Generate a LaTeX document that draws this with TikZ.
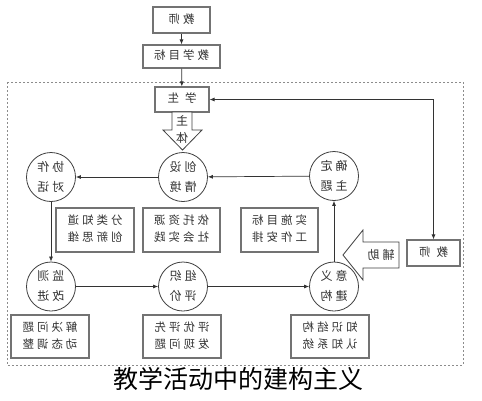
\documentclass[tikz,border=0pt]{standalone}
\usepackage{fontspec}
\usepackage{graphicx}
\newfontfamily\cjk{Noto Sans CJK SC}
\usetikzlibrary{arrows.meta}
\newcommand\kk{\hspace{3pt}}
\newcommand\mir[1]{\reflectbox{\begin{tabular}{@{}c@{}}#1\end{tabular}}}
\begin{document}
\begin{tikzpicture}[x=1pt,y=-1pt,
  box/.style={draw=black!55, line width=1.1pt, fill=white, inner sep=0pt,
    font=\cjk\fontsize{11.5}{17}\selectfont, text=black!80, align=center},
  circ/.style={circle, draw=black!75, line width=0.8pt, minimum size=49pt, inner sep=0pt,
    font=\cjk\fontsize{12}{20}\selectfont, text=black!80, align=center},
  hollow/.style={draw=black!75, line width=0.8pt, fill=white, line join=miter},
  conn/.style={draw=black!80, line width=0.7pt, -{Latex[length=5pt,width=4pt]}},
  lbl/.style={font=\cjk\fontsize{12}{14}\selectfont, text=black!80, inner sep=0pt}
  ]
\useasboundingbox (0,0) rectangle (482,400);
\fill[white] (0,0) rectangle (482,400);
% dashed frame
\draw[draw=black!45, line width=0.7pt, dash pattern=on 2pt off 2pt] (7,82) rectangle (463,365);
% top boxes
\node[box, minimum width=57pt, minimum height=26pt] (t1) at (181.5,20) {\mir{教\kk 师}};
\node[box, minimum width=77pt, minimum height=23pt] (t2) at (181.5,56.5) {\mir{教\kk 学\kk 目\kk 标}};
\node[box, minimum width=54pt, minimum height=25pt] (xs) at (182,99.5) {\mir{学\kk\kk 生}};
% circles
\node[circ] (xz) at (51,177) {\mir{协\kk 作\\对\kk 话}};
\node[circ] (cs) at (183,177) {\mir{创\kk 设\\情\kk 境}};
\node[circ] (qd) at (334,176) {\mir{确\kk 定\\主\kk 题}};
\node[circ] (jc) at (51,286.5) {\mir{监\kk 测\\改\kk 进}};
\node[circ] (zz) at (183,286.5) {\mir{组\kk 织\\评\kk 价}};
\node[circ] (yy) at (334,286.5) {\mir{意\kk 义\\建\kk 构}};
% middle boxes
\node[box, minimum width=78pt, minimum height=44pt] (m1) at (95,230) {\mir{分\kk 类\kk 知\kk 道\\创\kk 新\kk 思\kk 维}};
\node[box, minimum width=77pt, minimum height=44pt] (m2) at (181.5,230) {\mir{依\kk 托\kk 资\kk 源\\社\kk 会\kk 实\kk 践}};
\node[box, minimum width=77pt, minimum height=44pt] (m3) at (279.5,230) {\mir{实\kk 施\kk 目\kk 标\\工\kk 作\kk 安\kk 排}};
% bottom boxes
\node[box, minimum width=78pt, minimum height=43pt] (b1) at (50,336.5) {\mir{解\kk 决\kk 问\kk 题\\动\kk 态\kk 调\kk 整}};
\node[box, minimum width=78pt, minimum height=43pt] (b2) at (182,336.5) {\mir{评\kk 优\kk 评\kk 先\\发\kk 现\kk 问\kk 题}};
\node[box, minimum width=78pt, minimum height=43pt] (b3) at (330,336.5) {\mir{知\kk 识\kk 结\kk 构\\认\kk 知\kk 系\kk 统}};
% right teacher box
\node[box, minimum width=53pt, minimum height=26pt] (js) at (433.5,253) {\mir{教\kk\kk 师}};
% hollow arrow 主体
\draw[hollow] (172,112) -- (192,112) -- (192,130) -- (202,130) -- (182.5,150) -- (163,130) -- (172,130) -- cycle;
\node[lbl] (zt1) at (182,121) {\reflectbox{主}};
\node[lbl] (zt2) at (182,138) {\reflectbox{体}};
% hollow arrow 辅助
\draw[hollow] (399,242) -- (363,242) -- (363,230) -- (343,255) -- (363,280) -- (363,268) -- (399,268) -- cycle;
\node[lbl] (fz) at (381,255) {\reflectbox{辅\kk 助}};
% connectors
\draw[conn] (t1) -- (t2);
\draw[conn] (t2) -- (xs);
\coordinate (c1) at (433.5,99.5);
\draw[conn] (c1) -- (xs.east);
\draw[conn] (c1) -- (js.north);
\draw[conn] (qd) -- (cs);
\draw[conn] (cs) -- (xz);
\draw[conn] (xz) -- (jc);
\draw[conn] (jc) -- (zz);
\draw[conn] (zz) -- (yy);
\draw[conn] (yy) -- (qd);
% title overlay
\node[font=\cjk\fontsize{25}{25}\selectfont, text=black, inner sep=0pt] (title) at (238,379) {教学活动中的建构主义};
\end{tikzpicture}
\end{document}
